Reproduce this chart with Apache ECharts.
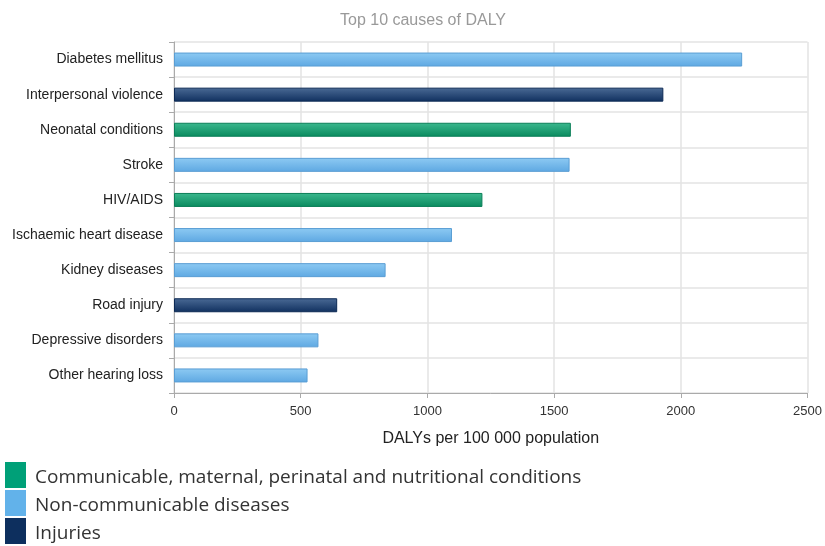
<!DOCTYPE html>
<html>
<head>
<meta charset="utf-8">
<script src="https://cdn.jsdelivr.net/npm/echarts@6/dist/echarts.min.js"></script>
<style>html,body{margin:0;padding:0;background:#fff}#c{width:825px;height:546px}</style>
</head>
<body>
<div id="c"></div>
<script>
const categories = ["Diabetes mellitus","Interpersonal violence","Neonatal conditions","Stroke","HIV/AIDS","Ischaemic heart disease","Kidney diseases","Road injury","Depressive disorders","Other hearing loss"];
const values = [2242, 1931, 1566, 1561, 1217, 1097, 835, 644, 570, 527];
const groups = ["ncd","inj","com","ncd","com","ncd","ncd","inj","ncd","ncd"];
const groupNames = {
  com: "Communicable, maternal, perinatal and nutritional conditions",
  ncd: "Non-communicable diseases",
  inj: "Injuries"
};
const xTicks = [0, 500, 1000, 1500, 2000, 2500];

const styles = {
  com: {top: "#3bb88e", bottom: "#0a8a5e", border: "#0b7f58", legend: "#00a078"},
  ncd: {top: "#8dcaf3", bottom: "#5ea8e2", border: "#5a9ed4", legend: "#62b2ea"},
  inj: {top: "#4a6a95", bottom: "#10305f", border: "#0d2a55", legend: "#0d2f5e"}
};

const order = ["com","ncd","inj"];
const series = order.map(g => ({
  name: groupNames[g],
  type: "bar",
  stack: "all",
  barWidth: 14,
  data: values.map((v, i) => groups[i] === g ? v : "-"),
  itemStyle: {
    color: new echarts.graphic.LinearGradient(0, 0, 0, 1, [
      {offset: 0, color: styles[g].top},
      {offset: 1, color: styles[g].bottom}
    ]),
    borderColor: styles[g].border,
    borderWidth: 1
  },
  emphasis: {disabled: true}
}));

const chart = echarts.init(document.getElementById("c"));
chart.setOption({
  animation: false,
  title: {
    text: "Top 10 causes of DALY",
    left: 418, top: 8, textAlign: "center",
    textStyle: {color: "#999", fontSize: 16, fontWeight: "normal", fontFamily: "Liberation Sans, Arial, sans-serif"}
  },
  legend: {
    orient: "vertical",
    left: 5, top: 462, height: 90, padding: 0,
    itemWidth: 21, itemHeight: 26, itemGap: 2,
    icon: "rect",
    data: order.map(g => ({name: groupNames[g], itemStyle: {color: styles[g].legend, borderWidth: 0}})),
    formatter: name => "{t|" + name + "}",
    textStyle: {
      fontSize: 19, color: "#333", fontFamily: "Open Sans, Noto Sans, sans-serif",
      rich: {t: {fontSize: 19, color: "#333", fontFamily: "Open Sans, Noto Sans, sans-serif", padding: [6, 0, 0, 4]}}
    },
    selectedMode: false
  },
  grid: {left: 174, right: 16, top: 42, bottom: 153, containLabel: false},
  xAxis: {
    type: "value",
    min: 0, max: 2500, interval: 500,
    name: "DALYs per 100 000 population",
    nameLocation: "middle",
    nameGap: 38,
    nameTextStyle: {fontSize: 16, color: "#222", fontFamily: "Liberation Sans, Arial, sans-serif"},
    axisLine: {show: true, lineStyle: {color: "#aaa"}},
    axisTick: {show: true, length: 5, lineStyle: {color: "#aaa"}},
    axisLabel: {color: "#333", fontSize: 13, margin: 12, fontFamily: "Liberation Sans, Arial, sans-serif",
      formatter: v => xTicks.includes(v) ? String(v) : ""},
    splitLine: {show: true, lineStyle: {color: "#e3e3e3", width: 1.5}}
  },
  yAxis: {
    type: "category",
    inverse: true,
    data: categories,
    axisLine: {show: true, lineStyle: {color: "#aaa"}},
    axisTick: {show: true, length: 5, lineStyle: {color: "#aaa"}},
    axisLabel: {color: "#222", fontSize: 14, margin: 11, fontFamily: "Liberation Sans, Arial, sans-serif"},
    splitLine: {show: true, lineStyle: {color: "#e3e3e3", width: 1.5}}
  },
  series: series
});
</script>
</body>
</html>
